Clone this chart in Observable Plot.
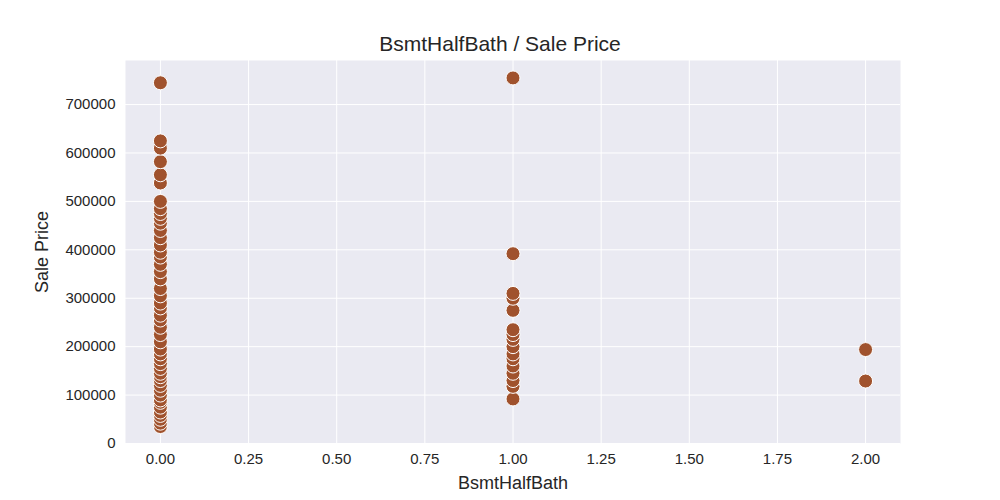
<!DOCTYPE html>
<html><head><meta charset="utf-8">
<script src="https://cdn.jsdelivr.net/npm/d3@7"></script>
<script src="https://cdn.jsdelivr.net/npm/@observablehq/plot@0.6"></script>
<style>
body{margin:0;background:#fff;font-family:Arial,"Liberation Sans",sans-serif;}
#t{height:30px;width:1000px;text-align:center;font-size:21px;line-height:30px;color:#262626;position:absolute;top:29px;left:0}
#c{position:absolute;top:30px;left:0}
</style></head><body>
<div id="c"></div>
<div id="t">BsmtHalfBath / Sale Price</div>
<script>
const x0Prices=[35000,42000,50000,58000,65000,75000,85000,90000,100000,110000,120000,130000,138000,145000,155000,165000,175000,185000,195000,210000,225000,240000,255000,265000,280000,290000,305000,320000,340000,355000,370000,385000,395000,410000,425000,440000,455000,465000,475000,485000,500000,538000,555000,582000,610000,625000,745000];
const x1Prices=[92000,118000,130000,145000,160000,175000,185000,200000,215000,225000,235000,275000,300000,310000,392000,755000];
const x2Prices=[129000,194000];
const data=[...x0Prices.map(p=>({x:0,y:p})),...x1Prices.map(p=>({x:1,y:p})),...x2Prices.map(p=>({x:2,y:p}))];
const xt=[0,0.25,0.5,0.75,1,1.25,1.5,1.75,2];
const yt=[0,100000,200000,300000,400000,500000,600000,700000];
const chart=Plot.plot({
 width:1000,height:470,marginLeft:125,marginRight:100,marginTop:30,marginBottom:57,
 style:{fontSize:"15px",fontFamily:"Arial, Liberation Sans, sans-serif",color:"#262626",background:"#fff"},
 x:{domain:[-0.099,2.099]},
 y:{domain:[0,791000]},
 marks:[
  Plot.frame({fill:"#eaeaf2",stroke:null}),
  Plot.gridX(xt,{stroke:"#fff",strokeOpacity:1,strokeWidth:1}),
  Plot.gridY(yt,{stroke:"#fff",strokeOpacity:1,strokeWidth:1}),
  Plot.axisX({ticks:xt,tickFormat:d=>d.toFixed(2),tickSize:0,tickPadding:10,label:"BsmtHalfBath",labelAnchor:"center",labelArrow:"none",labelOffset:45,fontSize:15}),
  Plot.axisY({ticks:yt,tickFormat:d=>String(d),tickSize:0,tickPadding:10,label:"Sale Price",labelAnchor:"center",labelOffset:90,labelArrow:"none",fontSize:15}),
  Plot.dot(data,{x:"x",y:"y",r:7,fill:"#a0522d",stroke:"#fff",strokeWidth:1})
 ]
});
chart.querySelectorAll("[aria-label='x-axis label'] text, [aria-label='y-axis label'] text").forEach(t=>t.style.fontSize="18px");
document.getElementById("c").appendChild(chart);
</script></body></html>
